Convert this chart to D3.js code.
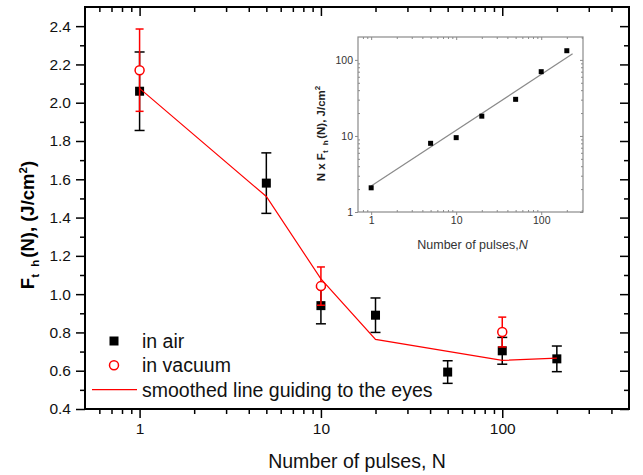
<!DOCTYPE html>
<html>
<head>
<meta charset="utf-8">
<script src="https://cdn.jsdelivr.net/npm/d3@7"></script>
<style>
  body { margin: 0; background: #fff; }
  text { font-family: "Liberation Sans", Arial, sans-serif; }
</style>
</head>
<body>
<div id="chart"></div>
<script>
// main panel data
const pulses = [1, 5, 10, 20, 50, 100, 200];
const airF = [2.06, 1.58, 0.94, 0.89, 0.593, 0.704, 0.662];
const airErr = [0.205, 0.158, 0.095, 0.09, 0.059, 0.07, 0.067];
const vacPulses = [1, 10, 100];
const vacF = [2.17, 1.042, 0.802];
const vacErr = [0.215, 0.10, 0.078];
const linePulses = [1, 5, 10, 20, 100, 200];
const lineF = [2.075, 1.51, 1.08, 0.764, 0.654, 0.666];
const xMajor = [1, 10, 100];
const yMajor = [0.4, 0.6, 0.8, 1.0, 1.2, 1.4, 1.6, 1.8, 2.0, 2.2, 2.4];
const legendLabels = ['in air', 'in vacuum', 'smoothed line guiding to the eyes'];

// inset data
const insetN = [1, 5, 10, 20, 50, 100, 200];
const insetNF = [2.08, 8.0, 9.5, 18.2, 30.3, 70, 132];
const fitN = [1, 234];
const fitNF = [2.2, 120];
const insetMajor = [1, 10, 100];

const W = 643, H = 475;
const svg = d3.select('#chart').append('svg').attr('width', W).attr('height', H);

const margin = { left: 85, top: 7, right: 14, bottom: 66 };
const width = W - margin.left - margin.right;
const height = H - margin.top - margin.bottom;

const g = svg.append('g').attr('transform', `translate(${margin.left},${margin.top})`);

const x = d3.scaleLog().domain([0.5, 500]).range([0, width]);
const y = d3.scaleLinear().domain([0.4, 2.5]).range([height, 0]);

// minor ticks for a log axis between the domain ends
function logMinors(dom) {
  const out = [];
  for (let e = -1; e <= 3; e++) {
    for (let k = 2; k <= 9; k++) {
      const v = k * Math.pow(10, e);
      if (v > dom[0] * 1.0001 && v < dom[1] * 0.9999) out.push(v);
    }
  }
  return out;
}
const yMinor = d3.range(0.5, 2.45, 0.2);

function styleAxis(sel, w) {
  sel.select('.domain').remove();
  sel.selectAll('line').attr('stroke', '#000').attr('stroke-width', w);
  sel.selectAll('text').attr('font-size', 15.5).attr('fill', '#111');
}

// bottom
g.append('g').attr('transform', `translate(0,${height})`)
  .call(d3.axisBottom(x).tickValues(xMajor).tickSize(9).tickPadding(5).tickFormat(d3.format('d')))
  .call(s => styleAxis(s, 1.5));
g.append('g').attr('transform', `translate(0,${height})`)
  .call(d3.axisBottom(x).tickValues(logMinors(x.domain())).tickSize(5).tickFormat(''))
  .call(s => styleAxis(s, 1.5));
// top (inward)
g.append('g')
  .call(d3.axisTop(x).tickValues(xMajor).tickSize(-9).tickFormat(''))
  .call(s => styleAxis(s, 1.5));
g.append('g')
  .call(d3.axisTop(x).tickValues(logMinors(x.domain())).tickSize(-5).tickFormat(''))
  .call(s => styleAxis(s, 1.5));
// left
g.append('g')
  .call(d3.axisLeft(y).tickValues(yMajor).tickSize(9).tickPadding(5).tickFormat(d3.format('.1f')))
  .call(s => styleAxis(s, 1.5));
g.append('g')
  .call(d3.axisLeft(y).tickValues(yMinor).tickSize(5).tickFormat(''))
  .call(s => styleAxis(s, 1.5));
// right (inward)
g.append('g').attr('transform', `translate(${width},0)`)
  .call(d3.axisRight(y).tickValues(yMajor).tickSize(-9).tickFormat(''))
  .call(s => styleAxis(s, 1.5));
g.append('g').attr('transform', `translate(${width},0)`)
  .call(d3.axisRight(y).tickValues(yMinor).tickSize(-5).tickFormat(''))
  .call(s => styleAxis(s, 1.5));

g.append('rect').attr('width', width).attr('height', height)
  .attr('fill', 'none').attr('stroke', '#000').attr('stroke-width', 2);

// axis titles
svg.append('text')
  .attr('x', margin.left + width / 2).attr('y', 468)
  .attr('text-anchor', 'middle').attr('font-size', 19.5).attr('fill', '#111')
  .text('Number of pulses, N');

const yt = svg.append('text')
  .attr('transform', 'translate(34,225) rotate(-90)')
  .attr('text-anchor', 'middle').attr('font-size', 18.5).attr('font-weight', 'bold').attr('fill', '#000');
yt.append('tspan').text('F');
yt.append('tspan').attr('dy', 5).attr('font-size', 11.5).attr('letter-spacing', 2).text('t h');
yt.append('tspan').attr('dy', -5).text('(N), (J/cm');
yt.append('tspan').attr('dy', -7).attr('font-size', 11.5).text('2');
yt.append('tspan').attr('dy', 7).text(')');

// inset
const ins = { left: 358, top: 37, w: 225, h: 175 };
const ig = svg.append('g').attr('transform', `translate(${ins.left},${ins.top})`);
const ix = d3.scaleLog().domain([0.7, 310]).range([0, ins.w]);
const iy = d3.scaleLog().domain([1, 200]).range([ins.h, 0]);
const grey = '#8a8a8a';

ig.append('rect').attr('width', ins.w).attr('height', ins.h).attr('fill', '#fff');

function styleInset(sel) {
  sel.select('.domain').remove();
  sel.selectAll('line').attr('stroke', grey).attr('stroke-width', 1);
  sel.selectAll('text').attr('font-size', 10.5).attr('fill', '#333');
}
const ixMinor = logMinors(ix.domain());
const iyMinor = logMinors(iy.domain());

ig.append('g').attr('transform', `translate(0,${ins.h})`)
  .call(d3.axisBottom(ix).tickValues(insetMajor).tickSize(3).tickPadding(2).tickFormat(d3.format('d')))
  .call(styleInset);
ig.append('g').attr('transform', `translate(0,${ins.h})`)
  .call(d3.axisBottom(ix).tickValues(ixMinor).tickSize(-2).tickFormat(''))
  .call(styleInset);
ig.append('g')
  .call(d3.axisTop(ix).tickValues(insetMajor).tickSize(-3).tickFormat(''))
  .call(styleInset);
ig.append('g')
  .call(d3.axisTop(ix).tickValues(ixMinor).tickSize(-2).tickFormat(''))
  .call(styleInset);
ig.append('g')
  .call(d3.axisLeft(iy).tickValues(insetMajor).tickSize(3).tickPadding(2).tickFormat(d3.format('d')))
  .call(styleInset);
ig.append('g')
  .call(d3.axisLeft(iy).tickValues(iyMinor).tickSize(-2).tickFormat(''))
  .call(styleInset);
ig.append('g').attr('transform', `translate(${ins.w},0)`)
  .call(d3.axisRight(iy).tickValues(insetMajor).tickSize(-3).tickFormat(''))
  .call(styleInset);
ig.append('g').attr('transform', `translate(${ins.w},0)`)
  .call(d3.axisRight(iy).tickValues(iyMinor).tickSize(-2).tickFormat(''))
  .call(styleInset);

ig.append('rect').attr('width', ins.w).attr('height', ins.h)
  .attr('fill', 'none').attr('stroke', grey).attr('stroke-width', 1.2);

ig.append('path')
  .datum(fitN.map((n, i) => [n, fitNF[i]]))
  .attr('d', d3.line().x(d => ix(d[0])).y(d => iy(d[1])))
  .attr('fill', 'none').attr('stroke', grey).attr('stroke-width', 1.2);

ig.selectAll('.ipt')
  .data(insetN.map((n, i) => [n, insetNF[i]]))
  .join('rect')
  .attr('class', 'ipt')
  .attr('x', d => ix(d[0]) - 2.5).attr('y', d => iy(d[1]) - 2.5)
  .attr('width', 5).attr('height', 5).attr('fill', '#000');

const ixt = ig.append('text')
  .attr('x', ins.w / 2 + 2).attr('y', ins.h + 37)
  .attr('text-anchor', 'middle').attr('font-size', 12.5).attr('fill', '#333');
ixt.append('tspan').text('Number of pulses,');
ixt.append('tspan').attr('font-style', 'italic').text('N');

const iyt = ig.append('text')
  .attr('transform', `translate(-33,${ins.h / 2 + 9}) rotate(-90)`)
  .attr('text-anchor', 'middle').attr('font-size', 11.5).attr('font-weight', 'bold').attr('fill', '#222');
iyt.append('tspan').text('N x F');
iyt.append('tspan').attr('dy', 3).attr('font-size', 8).attr('letter-spacing', 1.5).text('t h');
iyt.append('tspan').attr('dy', -3).text('(N), J/cm');
iyt.append('tspan').attr('dy', -5).attr('font-size', 8).text('2');

// main data
const air = pulses.map((n, i) => ({ n: n, v: airF[i], e: airErr[i] }));
const vac = vacPulses.map((n, i) => ({ n: n, v: vacF[i], e: vacErr[i] }));

function errorBars(data, color, cap, cls) {
  const eb = g.selectAll('.' + cls).data(data).join('g').attr('class', cls)
    .attr('stroke', color).attr('stroke-width', 1.5);
  eb.append('line')
    .attr('x1', d => x(d.n)).attr('x2', d => x(d.n))
    .attr('y1', d => y(d.v - d.e)).attr('y2', d => y(d.v + d.e));
  eb.append('line')
    .attr('x1', d => x(d.n) - cap).attr('x2', d => x(d.n) + cap)
    .attr('y1', d => y(d.v + d.e)).attr('y2', d => y(d.v + d.e));
  eb.append('line')
    .attr('x1', d => x(d.n) - cap).attr('x2', d => x(d.n) + cap)
    .attr('y1', d => y(d.v - d.e)).attr('y2', d => y(d.v - d.e));
}

errorBars(air, '#000', 5, 'airbar');
g.selectAll('.airpt').data(air).join('rect')
  .attr('class', 'airpt')
  .attr('x', d => x(d.n) - 4.5).attr('y', d => y(d.v) - 4.5)
  .attr('width', 9).attr('height', 9).attr('fill', '#000');

g.append('path')
  .datum(linePulses.map((n, i) => [n, lineF[i]]))
  .attr('d', d3.line().x(d => x(d[0])).y(d => y(d[1])))
  .attr('fill', 'none').attr('stroke', '#f00').attr('stroke-width', 1.2);

errorBars(vac, '#f00', 4, 'vacbar');
g.selectAll('.vacpt').data(vac).join('circle')
  .attr('class', 'vacpt')
  .attr('cx', d => x(d.n)).attr('cy', d => y(d.v)).attr('r', 4.5)
  .attr('fill', '#fff').attr('stroke', '#f00').attr('stroke-width', 1.5);

// legend
const lg = svg.append('g').attr('transform', 'translate(92,341)');
const rowH = 24.3;
lg.append('rect').attr('x', 17.5).attr('y', -4.5).attr('width', 9).attr('height', 9).attr('fill', '#000');
lg.append('circle').attr('cx', 22).attr('cy', rowH).attr('r', 4.5)
  .attr('fill', '#fff').attr('stroke', '#f00').attr('stroke-width', 1.5);
lg.append('line').attr('x1', 0).attr('x2', 45).attr('y1', 2 * rowH).attr('y2', 2 * rowH)
  .attr('stroke', '#f00').attr('stroke-width', 1.2);
lg.selectAll('.lgt').data(legendLabels).join('text')
  .attr('class', 'lgt')
  .attr('x', 50).attr('y', (d, i) => i * rowH + 7)
  .attr('font-size', 19.5).attr('fill', '#111')
  .text(d => d);
</script>
</body>
</html>
